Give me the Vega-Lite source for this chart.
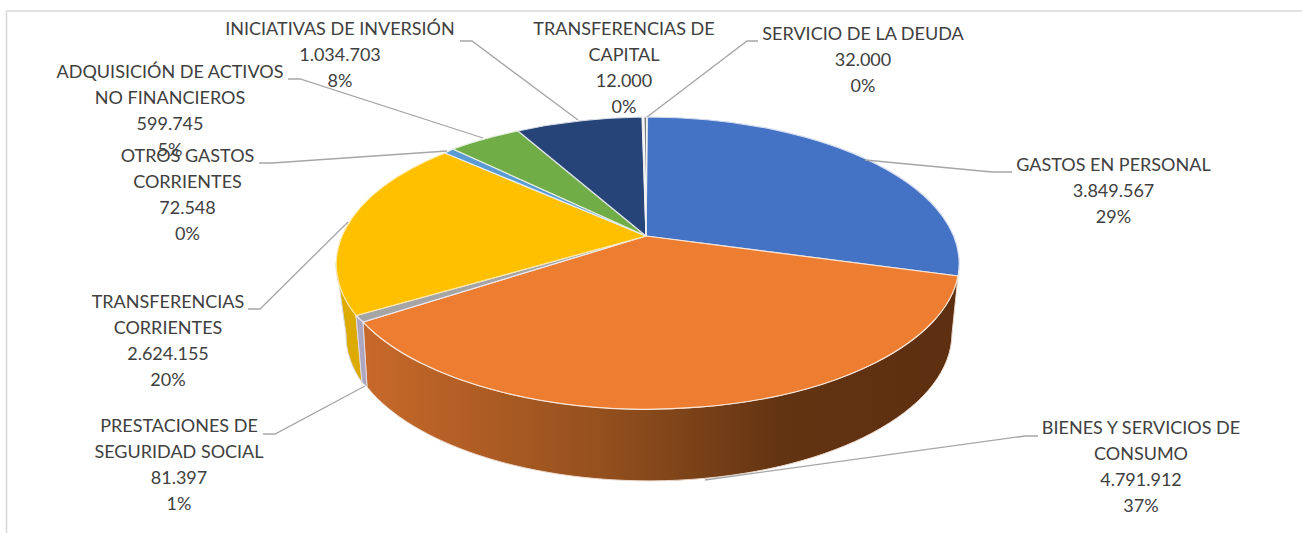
{
  "$schema": "https://vega.github.io/schema/vega-lite/v6.json",
  "width": 1302,
  "height": 533,
  "padding": 0,
  "autosize": "none",
  "background": "white",
  "config": {"view": {"stroke": null}},
  "data": {"values": [
    {"name": "GASTOS EN PERSONAL", "value": 3849567, "label": "GASTOS EN PERSONAL\n3.849.567\n29%"},
    {"name": "BIENES Y SERVICIOS DE CONSUMO", "value": 4791912, "label": "BIENES Y SERVICIOS DE\nCONSUMO\n4.791.912\n37%"},
    {"name": "PRESTACIONES DE SEGURIDAD SOCIAL", "value": 81397, "label": "PRESTACIONES DE\nSEGURIDAD SOCIAL\n81.397\n1%"},
    {"name": "TRANSFERENCIAS CORRIENTES", "value": 2624155, "label": "TRANSFERENCIAS\nCORRIENTES\n2.624.155\n20%"},
    {"name": "OTROS GASTOS CORRIENTES", "value": 72548, "label": "OTROS GASTOS\nCORRIENTES\n72.548\n0%"},
    {"name": "ADQUISICIÓN DE ACTIVOS NO FINANCIEROS", "value": 599745, "label": "ADQUISICIÓN DE ACTIVOS\nNO FINANCIEROS\n599.745\n5%"},
    {"name": "INICIATIVAS DE INVERSIÓN", "value": 1034703, "label": "INICIATIVAS DE INVERSIÓN\n1.034.703\n8%"},
    {"name": "TRANSFERENCIAS DE CAPITAL", "value": 12000, "label": "TRANSFERENCIAS DE\nCAPITAL\n12.000\n0%"},
    {"name": "SERVICIO DE LA DEUDA", "value": 32000, "label": "SERVICIO DE LA DEUDA\n32.000\n0%"}
  ]},
  "layer": [
    {
      "transform": [{"filter": "datum.value === 3849567"}],
      "mark": {"type": "point", "filled": false, "opacity": 1, "size": 4, "stroke": "#D9D9D9", "strokeWidth": 1.6,
        "shape": "M-644.5 266.5 L-644.5 -255.5 L651 -255.5"}
    },
    {
      "transform": [{"filter": "datum.value === 4791912"}],
      "mark": {"type": "point", "filled": true, "opacity": 1, "size": 4, "strokeWidth": 1, "stroke": "#EBD9CC",
        "fill": {"gradient": "linear", "x1": 0, "y1": 0, "x2": 1, "y2": 0, "stops": [
          {"offset": 0, "color": "#C8692A"},
          {"offset": 0.4, "color": "#94501E"},
          {"offset": 0.7, "color": "#633412"},
          {"offset": 1, "color": "#5C2F10"}
        ]},
        "shape": "M307 9.5 A311.5 146.5 0 0 1 -288 55.5 L-284 120.5 A303 148 0 0 0 301 67.5 Z"}
    },
    {
      "transform": [{"filter": "datum.value === 2624155"}],
      "mark": {"type": "point", "filled": true, "opacity": 1, "size": 4, "fill": "#DDAA00", "stroke": "#D9D9D9", "strokeWidth": 1,
        "shape": "M-315 -3.5 A311.5 146.5 0 0 0 -295 49 L-289 116 A303 148 0 0 1 -305 67.5 Z"}
    },
    {
      "transform": [{"filter": "datum.value === 81397"}],
      "mark": {"type": "point", "filled": true, "opacity": 1, "size": 4, "fill": "#ACA6BE", "stroke": "#E8E2EE", "strokeWidth": 0.8,
        "shape": "M-295 49 L-288 55.5 L-284 120.5 L-289 116 Z"}
    },
    {
      "mark": {"type": "point", "filled": true, "opacity": 1, "size": 4, "strokeWidth": 1.2},
      "encoding": {
        "shape": {"field": "value", "type": "nominal", "legend": null, "scale": {
          "domain": [3849567, 4791912, 81397, 2624155, 72548, 599745, 1034703, 12000, 32000],
          "range": [
            "M-5 -30.5 L-3.5 -149.5 A311.5 146.5 0 0 1 307 9.5 Z",
            "M-5 -30.5 L307 9.5 A311.5 146.5 0 0 1 -288 55.5 Z",
            "M-5 -30.5 L-288 55.5 A311.5 146.5 0 0 1 -295 49 Z",
            "M-5 -30.5 L-295 49 A311.5 146.5 0 0 1 -206 -113.5 Z",
            "M-5 -30.5 L-206 -113.5 A311.5 146.5 0 0 1 -198 -117.5 Z",
            "M-5 -30.5 L-198 -117.5 A311.5 146.5 0 0 1 -133 -135.5 Z",
            "M-5 -30.5 L-133 -135.5 A311.5 146.5 0 0 1 -9 -149.5 Z",
            "M-5 -30.5 L-8.5 -149.5 L-7.5 -149.5 Z",
            "M-5 -30.5 L-7 -149.5 L-4.5 -149.5 Z"
          ]}},
        "fill": {"field": "value", "type": "nominal", "legend": null, "scale": {
          "domain": [3849567, 4791912, 81397, 2624155, 72548, 599745, 1034703, 12000, 32000],
          "range": ["#4472C4", "#ED7D31", "#A5A5A5", "#FFC000", "#5B9BD5", "#70AD47", "#264478", "#9E480E", "#636363"]}},
        "stroke": {"field": "value", "type": "nominal", "legend": null, "scale": {
          "domain": [3849567, 4791912, 81397, 2624155, 72548, 599745, 1034703, 12000, 32000],
          "range": ["#D5DEEE", "#FBE5D6", "#EDE8F0", "#FFE9A8", "#E4EDF6", "#E4EEDC", "#DDE1E8", "#F4F4F4", "#F4F4F4"]}}
      }
    },
    {
      "transform": [{"filter": "datum.value !== 12000"}],
      "mark": {"type": "point", "filled": false, "opacity": 1, "size": 4, "stroke": "#A6A6A6", "strokeWidth": 1.3},
      "encoding": {
        "shape": {"field": "value", "type": "nominal", "legend": null, "scale": {
          "domain": [3849567, 4791912, 81397, 2624155, 72548, 599745, 1034703, 32000],
          "range": [
            "M214 -106.5 L341 -94.5 L361 -94.5",
            "M54 213.5 L374 169.5 L387 169.5",
            "M-388 167.5 L-376 167.5 L-286 119.5",
            "M-403 42.5 L-391 42.5 L-303 -44.5",
            "M-392 -103.5 L-379 -103.5 L-204 -115.5",
            "M-363 -187.5 L-351 -187.5 L-168 -128.5",
            "M-191 -225.5 L-179 -225.5 L-73 -146.5",
            "M107 -225.5 L96 -225.5 L-4 -149.5"
          ]}}
      }
    },
    {
      "mark": {"type": "text", "font": "Lato", "fontSize": 18, "color": "#404040", "align": "center", "baseline": "middle", "lineBreak": "\n", "lineHeight": 26},
      "encoding": {
        "text": {"field": "label", "type": "nominal"},
        "x": {"field": "value", "type": "quantitative", "axis": null, "scale": {
          "nice": false, "zero": false,
          "domain": [12000, 32000, 72548, 81397, 599745, 1034703, 2624155, 3849567, 4791912],
          "range": [624, 863, 187.5, 179, 170, 340, 168, 1113.5, 1141]}},
        "y": {"field": "value", "type": "quantitative", "axis": null, "scale": {
          "nice": false, "zero": false,
          "domain": [12000, 32000, 72548, 81397, 599745, 1034703, 2624155, 3849567, 4791912],
          "range": [30, 35, 157, 427, 73, 30, 303, 166, 429]}}
      }
    }
  ],
  "resolve": {"scale": {"shape": "independent"}}
}
